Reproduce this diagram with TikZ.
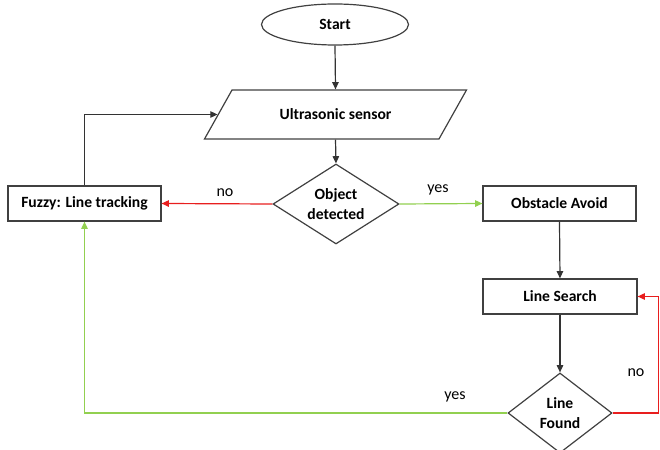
\documentclass[tikz,border=0pt]{standalone}
\usepackage{fontspec}
\setmainfont{Carlito}
\usepackage{xcolor}
\definecolor{noRed}{RGB}{232,30,30}
\definecolor{yesGreen}{RGB}{146,208,80}
\usetikzlibrary{arrows.meta,positioning,shapes.geometric}

\begin{document}
\begin{tikzpicture}[
        font=\fontsize{11.4}{14.4}\selectfont,
        boldtext/.style={font=\fontsize{11.1}{14.4}\selectfont\bfseries},
        flowbox/.style={draw=black!75, line width=0.03cm, rectangle, minimum width=3.825cm, minimum height=0.875cm, boldtext},
        decision/.style={draw=black!75, line width=0.03cm, diamond, inner sep=0pt, align=center, boldtext},
        flowarrow/.style={line width=0.03cm, draw=black!80, -{Triangle[length=0.18cm,width=0.16cm]}},
        noarrow/.style={flowarrow, draw=noRed, -{Triangle[length=0.18cm,width=0.16cm,fill=noRed]}},
        yesarrow/.style={flowarrow, draw=yesGreen, -{Triangle[length=0.18cm,width=0.16cm,fill=yesGreen]}}]
                \useasboundingbox (0,0) rectangle (16.500000,11.250000);
                \clip (0,0) rectangle (16.500000,11.250000);

                % Start
                \node (start) [draw=black!75, line width=0.03cm, ellipse, minimum width=3.675cm, minimum height=1.025cm, boldtext] at (8.375000,10.637500) {Start};%

                % Ultrasonic sensor (parallelogram)
                \node (sensor) [draw=black!75, line width=0.03cm, trapezium, trapezium left angle=36.6, trapezium right angle=143.4, trapezium stretches body=true, minimum width=6.550000cm, minimum height=1.225000cm, boldtext] at (8.387500,8.387500) {Ultrasonic sensor};%

                % Decision: object detected
                \node (object) [decision, shape aspect=1.575, minimum width=3.150000cm, minimum height=2.000000cm] at (8.400000,6.150000) {Object\\detected};%

                % Boxes
                \node (fuzzy) [flowbox] at (2.112500,6.162500) {Fuzzy: Line tracking};%
                \node (obstacle) [flowbox] at (13.987500,6.162500) {Obstacle Avoid};%
                \node (search) [flowbox, minimum width=3.850000cm] at (14.000000,3.837500) {Line Search};%

                % Decision: line found
                \node (found) [decision, shape aspect=1.3, minimum width=2.600000cm, minimum height=2.000000cm] at (14.000000,0.925000) {Line\\Found};%

                % Labels
                \node (objno) at (5.625000,6.425000) {no};%
                \node (objyes) at (10.950000,6.500000) {yes};%
                \node (foundyes) at (11.375000,1.325000) {yes};%
                \node (foundno) at (15.900000,1.925000) {no};%

                % Edge of the red loop
                \coordinate (redturn) at (16.470000,0.925000);%

                % Drawing arrows
                \draw [flowarrow] (start.south) -- (sensor.north);%
                \draw [flowarrow] (sensor.south) -- (object.north);%
                \draw [noarrow] (object.west) -- (fuzzy.east);%
                \draw [yesarrow] (object.east) -- (obstacle.west);%
                \draw [flowarrow] (fuzzy.north) |- (sensor.west);%
                \draw [flowarrow] (obstacle.south) -- (search.north);%
                \draw [flowarrow] (search.south) -- (found.north);%
                \draw [noarrow] (found.east) -- (redturn) |- (search.east);%
                \draw [yesarrow] (found.west) -| (fuzzy.south);%
            \end{tikzpicture}
\end{document}
